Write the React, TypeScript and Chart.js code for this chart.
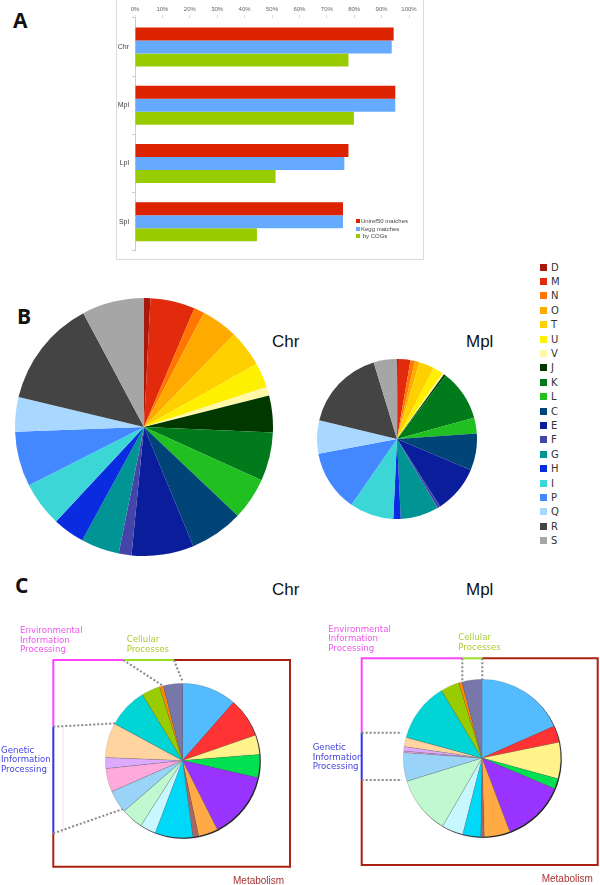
import React, { useEffect, useRef } from 'react';
import { Chart, registerables } from 'chart.js';
Chart.register(...registerables);

// ---------- Panel A data ----------
const barCategories = ['Chr', 'Mpl', 'Lpl', 'Spl'];
const uniref50Matches = [94.4, 95.0, 77.9, 75.9];
const keggMatches = [93.7, 95.0, 76.4, 75.9];
const byCogs = [77.9, 79.9, 51.3, 44.5];
const barSeriesNames = ['Uniref50 matches', 'Kegg matches', ' by COGs'];
const barSeriesColors = ['#dd2200', '#66aaff', '#99cc00'];

// ---------- Panel B data (COG categories) ----------
const cogLetters = ['D', 'M', 'N', 'O', 'T', 'U', 'V', 'J', 'K', 'L', 'C', 'E', 'F', 'G', 'H', 'I', 'P', 'Q', 'R', 'S'];
const cogColors = ['#a8180c', '#e22a0c', '#ff7700', '#ffaa00', '#ffd000', '#fff000', '#fff8a8', '#003800', '#007a1a', '#20c020', '#004478', '#0a1e9c', '#4444aa', '#009494', '#0a2ce0', '#3cd6d6', '#4488ff', '#a8d8ff', '#444444', '#a6a6a6'];
const cogChr = [0.8, 5.6, 1.3, 4.6, 4.6, 3.1, 1.1, 4.6, 6.1, 5.3, 6.7, 7.8, 1.6, 4.8, 4.0, 5.6, 6.9, 4.3, 13.5, 7.8];
const cogMpl = [0.2, 2.5, 0.9, 0.9, 3.1, 2.0, 0.4, 0.4, 10.3, 3.2, 7.4, 9.6, 0.6, 7.7, 1.5, 8.9, 12.4, 6.7, 16.5, 4.7];

// ---------- Panel C data (KEGG pathway classes) ----------
const keggLabels = [
  'Carbohydrate metabolism', 'Energy metabolism', 'Lipid metabolism', 'Nucleotide metabolism',
  'Amino acid metabolism', 'Metabolism of other amino acids', 'Glycan biosynthesis and metabolism',
  'Metabolism of cofactors and vitamins', 'Metabolism of terpenoids and polyketides', 'Xenobiotics biodegradation',
  'Transcription', 'Translation', 'Folding, sorting and degradation', 'Replication and repair',
  'Membrane transport', 'Signal transduction', 'Cell motility', 'Cell growth and death',
];
const keggColors = ['#55bbff', '#ff3333', '#fff38a', '#00e050', '#9933ff', '#ffaa44', '#aa6666', '#00d8f8', '#c8f8ff', '#c0f8d0', '#99d4f8', '#ffaadd', '#ddaaff', '#ffd4a0', '#00d4d4', '#99cc00', '#ff8800', '#7777aa'];
const keggChr = [11.5, 8.2, 4.1, 4.8, 14.0, 4.1, 1.2, 7.9, 3.3, 4.6, 4.8, 4.9, 2.3, 7.3, 8.4, 3.9, 0.8, 4.0];
const keggMpl = [18.4, 3.4, 7.5, 2.1, 12.9, 5.3, 0.7, 3.7, 4.4, 11.9, 5.9, 0.3, 0.9, 1.9, 12.2, 3.8, 0.7, 4.1];

function BarChart() {
  const ref = useRef<HTMLCanvasElement>(null);
  useEffect(() => {
    const series = [uniref50Matches, keggMatches, byCogs];
    const chart = new Chart(ref.current!, {
      type: 'bar',
      data: {
        labels: barCategories,
        datasets: series.map((d, i) => ({
          label: barSeriesNames[i],
          data: d,
          backgroundColor: barSeriesColors[i],
          borderWidth: 0,
          categoryPercentage: 0.67,
          barPercentage: 1,
        })),
      },
      options: {
        indexAxis: 'y',
        responsive: false,
        animation: false,
        layout: { padding: { right: 14, bottom: 2, top: 0, left: 0 } },
        plugins: { legend: { display: false }, tooltip: { enabled: false } },
        scales: {
          x: {
            position: 'top',
            min: 0,
            max: 100,
            ticks: {
              stepSize: 10,
              callback: (v: any) => v + '%',
              font: { size: 6, family: 'Liberation Sans' },
              color: '#666',
              padding: 2,
              maxRotation: 0,
            },
            grid: { drawOnChartArea: false, tickLength: 3, color: '#ddd' },
            border: { display: false },
            afterFit: (s: any) => { s.height = 18; },
          },
          y: {
            ticks: { font: { size: 7, family: 'Liberation Sans' }, color: '#444', padding: 3 },
            grid: { drawOnChartArea: false, tickLength: 3, color: '#ccc', offset: true },
            border: { color: '#ccc' },
            afterFit: (s: any) => { s.width = 18; },
          },
        },
      },
    });
    return () => chart.destroy();
  }, []);
  return <canvas ref={ref} width={306} height={258} style={{ position: 'absolute', left: 117, top: 0 }} />;
}

type PieProps = {
  values: number[];
  colors: string[];
  labels: string[];
  size: number;
  left: number;
  top: number;
  borderWidth: number;
  shadow?: boolean;
};

function Pie({ values, colors, labels, size, left, top, borderWidth, shadow }: PieProps) {
  const ref = useRef<HTMLCanvasElement>(null);
  useEffect(() => {
    const chart = new Chart(ref.current!, {
      type: 'pie',
      data: {
        labels,
        datasets: [{
          data: values,
          backgroundColor: colors,
          borderWidth,
          borderColor: 'rgba(110,110,110,0.35)',
        }],
      },
      options: {
        responsive: false,
        animation: false,
        layout: { padding: 0 },
        plugins: { legend: { display: false }, tooltip: { enabled: false } },
      },
    });
    return () => chart.destroy();
  }, []);
  return (
    <canvas
      ref={ref}
      width={size}
      height={size}
      style={{
        position: 'absolute', left, top,
        filter: shadow ? 'drop-shadow(1.5px 1.5px 0.6px #1a1a1a)' : undefined,
      }}
    />
  );
}

const panelLetter: React.CSSProperties = {
  position: 'absolute', fontFamily: 'Open Sans', fontWeight: 700, fontSize: 21, lineHeight: 1, color: '#111',
};
const sampleTitle: React.CSSProperties = {
  position: 'absolute', fontFamily: 'Liberation Sans', fontSize: 17, lineHeight: 1, color: '#111',
};
const smallLabel: React.CSSProperties = {
  position: 'absolute', fontFamily: 'DejaVu Sans', fontSize: 8.6, lineHeight: '9.6px', whiteSpace: 'pre',
};

function Brackets() {
  const dot = { stroke: '#888', strokeWidth: 2, strokeDasharray: '2 2', fill: 'none' } as const;
  const ln = (c: string) => ({ stroke: c, strokeWidth: 2, fill: 'none' } as const);
  return (
    <svg width={600} height={885} style={{ position: 'absolute', left: 0, top: 0 }}>
      {/* Chr */}
      <line x1={63} y1={727} x2={63} y2={833} stroke="#e8e8e8" strokeWidth={1} />
      <polyline points="53.3,726.7 53.3,660 123.3,660" {...ln('#ff44ff')} />
      <polyline points="123.3,660 174,660" {...ln('#99dd22')} />
      <polyline points="174,660 290,660 290,866.7 53.3,866.7 53.3,833.3" {...ln('#aa2211')} />
      <polyline points="53.3,726.7 53.3,833.3" {...ln('#3333ee')} />
      <line x1={123.3} y1={660} x2={163.3} y2={686} {...dot} />
      <line x1={174} y1={660} x2={182.7} y2={682} {...dot} />
      <line x1={53.3} y1={726.7} x2={116.7} y2={723.3} {...dot} />
      <line x1={53.3} y1={833.3} x2={125} y2={808.3} {...dot} />
      {/* Mpl */}
      <polyline points="361.7,732.7 361.7,658.3 462.3,658.3" {...ln('#ff44ff')} />
      <polyline points="462.3,658.3 482.3,658.3" {...ln('#99dd22')} />
      <polyline points="482.3,658.3 597.7,658.3 597.7,865 361.7,865 361.7,780" {...ln('#aa2211')} />
      <polyline points="361.7,732.7 361.7,780" {...ln('#3333ee')} />
      <line x1={462.3} y1={658.3} x2={462.3} y2={684} {...dot} />
      <line x1={482.3} y1={658.3} x2={482.3} y2={681} {...dot} />
      <line x1={361.7} y1={732.7} x2={402} y2={732.7} {...dot} />
      <line x1={361.7} y1={780} x2={402} y2={780} {...dot} />
    </svg>
  );
}

export default function App() {
  return (
    <div style={{ position: 'absolute', left: 0, top: 0, width: 600, height: 885, background: '#fff', overflow: 'hidden' }}>
      {/* Panel A */}
      <div style={{ ...panelLetter, left: 13, top: 9.5 }}>A</div>
      <div style={{ position: 'absolute', left: 116, top: -1, width: 306, height: 259, border: '1px solid #dcdcdc' }} />
      <BarChart />
      <div style={{ position: 'absolute', left: 356, top: 217, fontFamily: 'Liberation Sans', fontSize: 6, color: '#444' }}>
        {barSeriesNames.map((n, i) => (
          <div key={n} style={{ display: 'flex', alignItems: 'center', height: 7.8, whiteSpace: 'pre' }}>
            <span style={{ display: 'inline-block', width: 4, height: 4, background: barSeriesColors[i], marginRight: 1 }} />
            {n}
          </div>
        ))}
      </div>

      {/* Panel B */}
      <div style={{ ...panelLetter, left: 17, top: 305.5 }}>B</div>
      <div style={{ ...sampleTitle, left: 272, top: 333 }}>Chr</div>
      <div style={{ ...sampleTitle, left: 466, top: 333 }}>Mpl</div>
      <Pie values={cogChr} colors={cogColors} labels={cogLetters} size={258} left={15} top={298} borderWidth={0} />
      <Pie values={cogMpl} colors={cogColors} labels={cogLetters} size={160} left={317} top={359} borderWidth={0} />
      <div style={{ position: 'absolute', left: 540, top: 260, fontFamily: 'DejaVu Sans', fontSize: 10, color: '#333' }}>
        {cogLetters.map((l, i) => (
          <div key={l} style={{ display: 'flex', alignItems: 'center', height: 14.4 }}>
            <span style={{ display: 'inline-block', width: 7, height: 7, background: cogColors[i], marginRight: 4 }} />
            {l}
          </div>
        ))}
      </div>

      {/* Panel C */}
      <div style={{ ...panelLetter, left: 15, top: 574.5 }}>C</div>
      <div style={{ ...sampleTitle, left: 272, top: 581 }}>Chr</div>
      <div style={{ ...sampleTitle, left: 466, top: 581 }}>Mpl</div>
      <Brackets />
      <Pie values={keggChr} colors={keggColors} labels={keggLabels} size={155} left={105} top={682.5} borderWidth={0.6} shadow />
      <Pie values={keggMpl} colors={keggColors} labels={keggLabels} size={158} left={402.7} top={678.7} borderWidth={0.6} shadow />

      <div style={{ ...smallLabel, left: 20, top: 626, color: '#ee55ee' }}>{'Environmental\nInformation\nProcessing'}</div>
      <div style={{ ...smallLabel, left: 126.7, top: 635, color: '#aacc33' }}>{'Cellular\nProcesses'}</div>
      <div style={{ ...smallLabel, left: 1, top: 745.5, color: '#4444dd' }}>{'Genetic\nInformation\nProcessing'}</div>
      <div style={{ position: 'absolute', left: 233, top: 874.5, fontFamily: 'Liberation Sans', fontSize: 10, color: '#aa3333' }}>Metabolism</div>

      <div style={{ ...smallLabel, left: 328.3, top: 624.5, color: '#ee55ee' }}>{'Environmental\nInformation\nProcessing'}</div>
      <div style={{ ...smallLabel, left: 458.3, top: 633, color: '#aacc33' }}>{'Cellular\nProcesses'}</div>
      <div style={{ ...smallLabel, left: 312.7, top: 743, color: '#4444dd' }}>{'Genetic\nInformation\nProcessing'}</div>
      <div style={{ position: 'absolute', left: 541.7, top: 872.5, fontFamily: 'Liberation Sans', fontSize: 10, color: '#aa3333' }}>Metabolism</div>
    </div>
  );
}
